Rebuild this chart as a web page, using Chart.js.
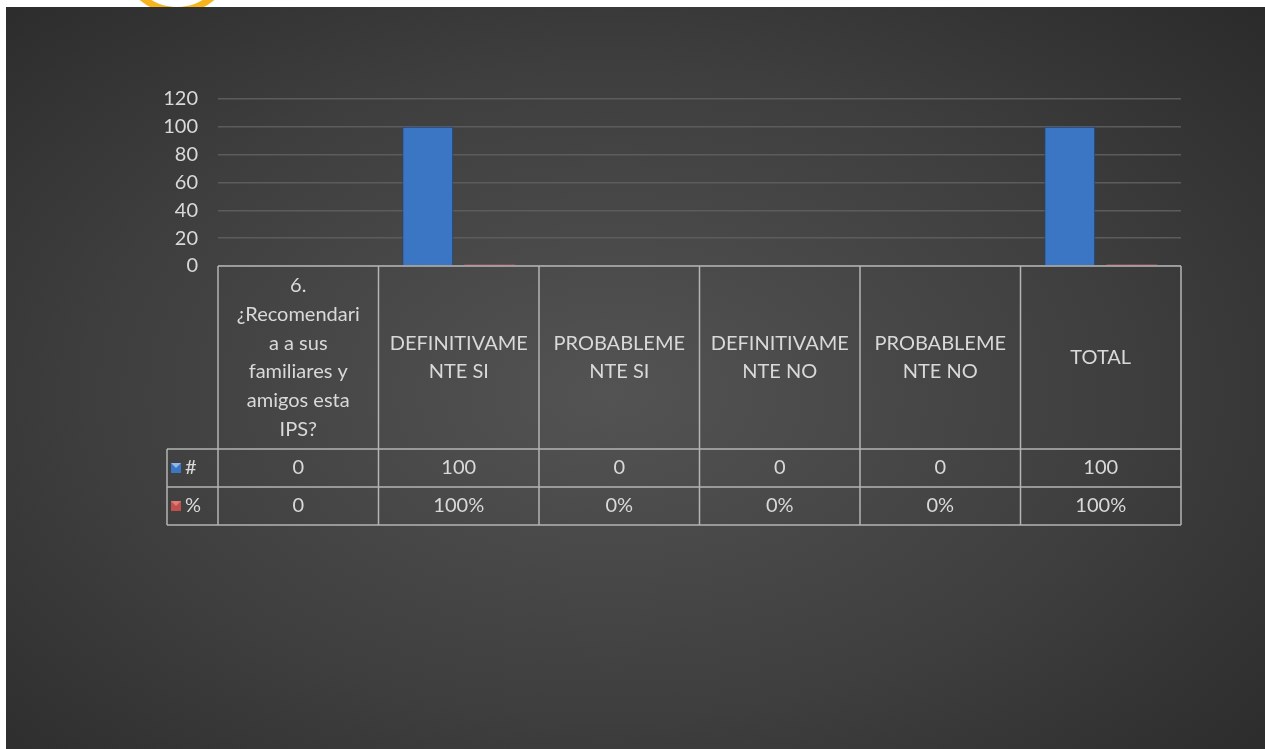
<!DOCTYPE html>
<html>
<head>
<meta charset="utf-8">
<script src="https://cdn.jsdelivr.net/npm/chart.js@4/dist/chart.umd.min.js"></script>
<style>
  html, body { margin: 0; padding: 0; background: #ffffff; overflow: hidden; }
  body { width: 1265px; height: 749px; position: relative; }
  #logo {
    position: absolute; left: 120px; top: -100px; width: 100px; height: 100px;
    border-radius: 50%; border: 7px solid #f6b41e; border-left-color: transparent; border-top-color: transparent;
  }
  #marco {
    position: absolute; left: 6px; top: 7px; width: 1259px; height: 742px;
    background: radial-gradient(ellipse 75% 80% at 48% 52%, #535353 0%, #3e3e3e 55%, #282828 100%);
  }
</style>
</head>
<body>
<div id="logo"></div>
<div id="marco"><canvas id="grafico" width="1259" height="742"></canvas></div>
<script>
// datos de la tabla
const categorias = [
  ["6.", "¿Recomendari", "a a sus", "familiares y", "amigos esta", "IPS?"],
  ["DEFINITIVAME", "NTE SI"],
  ["PROBABLEME", "NTE SI"],
  ["DEFINITIVAME", "NTE NO"],
  ["PROBABLEME", "NTE NO"],
  ["TOTAL"]
];
const valoresNum = [0, 100, 0, 0, 0, 100];
const valoresPct = [0, 1, 0, 0, 0, 1];
const textoNum = ["0", "100", "0", "0", "0", "100"];
const textoPct = ["0", "100%", "0%", "0%", "0%", "100%"];
const ejeY = { min: 0, max: 120, paso: 20 };

const FUENTE = "Lato";
const COLOR_TEXTO = "#d9d9d9";
const COLOR_BORDE = "#b4b4b4";

// Tabla de datos debajo del eje (como en Excel)
const tablaDatos = {
  id: "tablaDatos",
  afterDraw(chart) {
    const ctx = chart.ctx;
    const x = chart.scales.x;
    const n = categorias.length;
    const colW = (x.right - x.left) / n;
    const leyendaW = 51;
    const y0 = chart.chartArea.bottom;
    const y1 = y0 + 183;
    const y2 = y1 + 38;
    const y3 = y2 + 38;

    ctx.save();
    ctx.strokeStyle = COLOR_BORDE;
    ctx.lineWidth = 1.5;
    ctx.beginPath();
    ctx.moveTo(x.left, y0); ctx.lineTo(x.right, y0);
    ctx.moveTo(x.left - leyendaW, y1); ctx.lineTo(x.right, y1);
    ctx.moveTo(x.left - leyendaW, y2); ctx.lineTo(x.right, y2);
    ctx.moveTo(x.left - leyendaW, y3); ctx.lineTo(x.right, y3);
    ctx.moveTo(x.left - leyendaW, y1); ctx.lineTo(x.left - leyendaW, y3);
    for (let i = 0; i <= n; i++) {
      const xx = x.left + i * colW;
      ctx.moveTo(xx, y0); ctx.lineTo(xx, y3);
    }
    ctx.stroke();

    ctx.fillStyle = COLOR_TEXTO;
    ctx.font = "20px " + FUENTE;
    ctx.textAlign = "center";
    ctx.textBaseline = "middle";
    const lh = 28.7;
    categorias.forEach((lineas, i) => {
      const cx = x.getPixelForValue(i);
      const cy = (y0 + y1) / 2;
      const inicio = cy - (lineas.length - 1) * lh / 2;
      lineas.forEach((t, k) => ctx.fillText(t, cx, inicio + k * lh));
      ctx.fillText(textoNum[i], cx, (y1 + y2) / 2);
      ctx.fillText(textoPct[i], cx, (y2 + y3) / 2);
    });

    // leyenda
    const series = chart.data.datasets;
    [[y1, y2], [y2, y3]].forEach((r, k) => {
      const cy = (r[0] + r[1]) / 2;
      const kx = x.left - leyendaW + 4;
      ctx.fillStyle = series[k].backgroundColor;
      ctx.fillRect(kx, cy - 5, 10, 10);
      ctx.fillStyle = k === 0 ? "#8fb8ea" : "#e07a78";
      ctx.beginPath();
      ctx.moveTo(kx, cy - 5); ctx.lineTo(kx + 10, cy - 5); ctx.lineTo(kx + 5, cy);
      ctx.fill();
      ctx.fillStyle = COLOR_TEXTO;
      ctx.textAlign = "left";
      ctx.fillText(series[k].label, kx + 14, cy);
    });
    ctx.restore();
  }
};

new Chart(document.getElementById("grafico"), {
  type: "bar",
  data: {
    labels: categorias,
    datasets: [
      {
        label: "#",
        data: valoresNum,
        backgroundColor: "#3a76c4",
        borderColor: "#21467c",
        borderWidth: 1,
        categoryPercentage: 0.773,
        barPercentage: 0.82
      },
      {
        label: "%",
        data: valoresPct,
        backgroundColor: "#c0504d",
        borderColor: "#8c2d2a",
        borderWidth: 0,
        categoryPercentage: 0.773,
        barPercentage: 0.82
      }
    ]
  },
  options: {
    responsive: false,
    animation: false,
    layout: { padding: { left: 0, top: 92, right: 84, bottom: 483 } },
    plugins: { legend: { display: false }, tooltip: { enabled: false } },
    scales: {
      x: { display: false },
      y: {
        min: ejeY.min,
        max: ejeY.max,
        ticks: { stepSize: ejeY.paso, color: COLOR_TEXTO, padding: 20, font: { family: FUENTE, size: 20 } },
        grid: { color: "#5c5c5c", lineWidth: 1.5, drawTicks: false },
        border: { display: false },
        afterFit(scale) { scale.width = 212; }
      }
    }
  },
  plugins: [tablaDatos]
});
</script>
</body>
</html>
